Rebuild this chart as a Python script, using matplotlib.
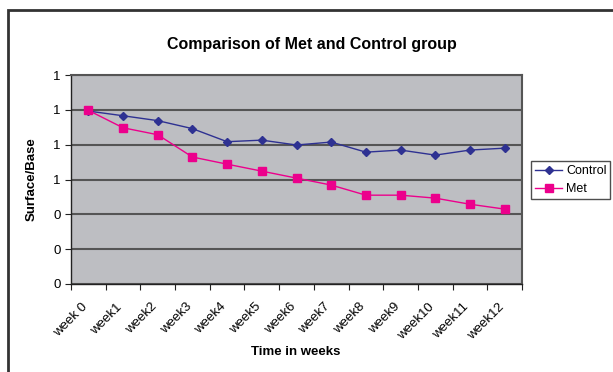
import matplotlib
matplotlib.use("Agg")
import matplotlib.pyplot as plt
from matplotlib.ticker import FormatStrFormatter
from matplotlib.patches import Rectangle

weeks = ["week 0", "week1", "week2", "week3", "week4", "week5", "week6",
         "week7", "week8", "week9", "week10", "week11", "week12"]
control = [0.993, 0.966, 0.938, 0.892, 0.817, 0.826, 0.798, 0.815,
           0.757, 0.769, 0.740, 0.769, 0.780]
met = [0.997, 0.897, 0.857, 0.729, 0.688, 0.648, 0.608, 0.568,
       0.510, 0.510, 0.493, 0.458, 0.430]
yticks = [0.0, 0.2, 0.4, 0.6, 0.8, 1.0, 1.2]

plt.rcParams['font.family'] = ['Liberation Sans', 'DejaVu Sans']

fig = plt.figure(figsize=(6.13, 3.72), dpi=100)
fig.patch.set_facecolor('white')

# outer chart border (extends beyond right/bottom edges)
fig.patches.append(Rectangle((8/613, -0.1), 1.2, 1 - 10/372 + 0.1,
                             transform=fig.transFigure, fill=False,
                             edgecolor='#333333', linewidth=2.0))

ax = fig.add_axes([71/613, 1 - 284/372, (522-71)/613, (284-75)/372])
ax.set_facecolor('#BDBEC2')

x = list(range(len(weeks)))
ax.plot(x, control, color='#2E3192', marker='D', markersize=4.5,
        linewidth=1.0, label='Control')
ax.plot(x, met, color='#EC008C', marker='s', markersize=5.5,
        linewidth=1.0, label='Met')

ax.set_xlim(-0.5, len(weeks) - 0.5)
ax.set_ylim(0, 1.2)
ax.set_yticks(yticks)
ax.yaxis.set_major_formatter(FormatStrFormatter('%.0f'))
ax.grid(axis='y', color='#555555', linewidth=1.5)
ax.set_axisbelow(True)

ax.set_xticks([i - 0.5 for i in range(len(weeks) + 1)])
ax.set_xticklabels([])
for i, w in zip(x, weeks):
    ax.annotate(w, xy=(i, 0), xycoords=ax.get_xaxis_transform(),
                xytext=(-7, -17), textcoords='offset pixels',
                ha='right', va='top', rotation=45, rotation_mode='anchor',
                fontsize=9.5, annotation_clip=False)
ax.tick_params(axis='x', length=4, direction='out', color='#222222')
ax.tick_params(axis='y', length=4, direction='out', labelsize=9.5, color='#222222')

for side in ['left', 'bottom']:
    ax.spines[side].set_color('#222222')
    ax.spines[side].set_linewidth(1.0)
for side in ['top', 'right']:
    ax.spines[side].set_color('#555555')
    ax.spines[side].set_linewidth(1.5)

ax.set_ylabel('Surface/Base', fontsize=9.5, fontweight='bold', labelpad=11)
fig.text(296/613, 1 - 352/372, 'Time in weeks', ha='center', va='center',
         fontsize=9.5, fontweight='bold')
fig.text(312/613, 1 - 45/372, 'Comparison of Met and Control group',
         ha='center', va='center', fontsize=11.5, fontweight='bold')

leg = ax.legend(loc='center left', bbox_to_anchor=(531/613, 1 - 180/372),
                bbox_transform=fig.transFigure, frameon=True, fancybox=False,
                fontsize=9, handlelength=2.2, borderpad=0.3, labelspacing=0.5,
                handletextpad=0.3, borderaxespad=0)
leg.get_frame().set_edgecolor('#222222')
leg.get_frame().set_linewidth(1.0)

fig.savefig('out.png', dpi=100)
